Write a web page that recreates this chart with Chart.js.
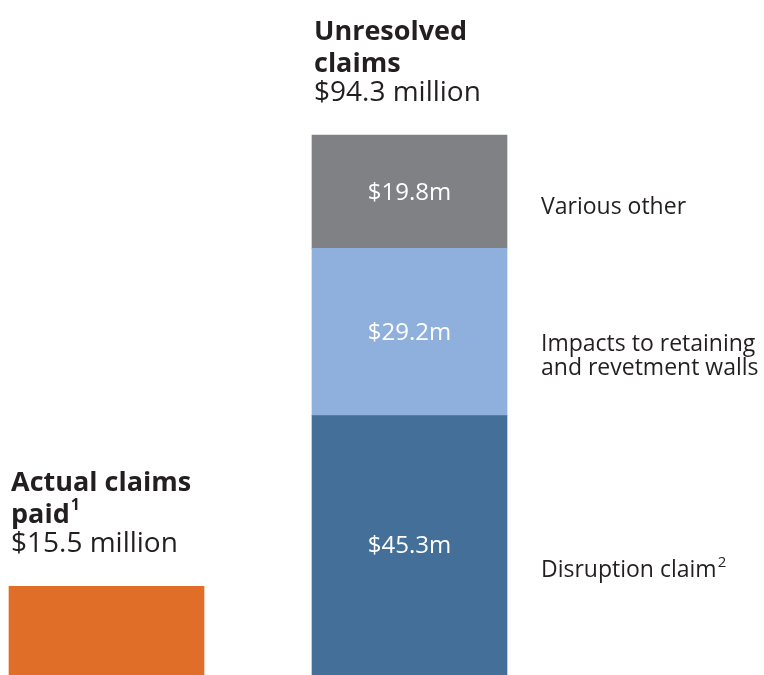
<!DOCTYPE html>
<html>
<head>
<meta charset="utf-8">
<script src="https://cdn.jsdelivr.net/npm/chart.js@4/dist/chart.umd.min.js"></script>
<style>
    html, body { margin: 0; padding: 0; background: #ffffff; }
    #wrap { width: 764px; height: 675px; position: relative; }
</style>
</head>
<body>
<div id="wrap"><canvas id="claims-chart"></canvas></div>
<script>
/* ============================================
   Claims chart data
   ============================================ */

const categories = ['Actual claims paid', 'Unresolved claims'];
const titleLines = [['Actual claims', 'paid'], ['Unresolved', 'claims']];
const titleSup = ['1', ''];
const totals = ['$15.5 million', '$94.3 million'];

const paidValues = [15.5, null];
const disruptionValues = [null, 45.3];
const wallsValues = [null, 29.2];
const otherValues = [null, 19.8];

const segmentNames = [['Disruption claim'], ['Impacts to retaining', 'and revetment walls'], ['Various other']];
const segmentSup = ['2', '', ''];

const FONT = "'Open Sans', 'Noto Sans', sans-serif";
const TEXT = '#231f20';
const NAME_SHIFT = [32, 19, 22];  // baseline offset of the side names from segment middle

// draws titles above each bar, value labels inside segments, names on the right
const annotations = {
    id: 'annotations',
    afterDatasetsDraw(chart) {
        const ctx = chart.ctx;
        ctx.save();
        ctx.textBaseline = 'alphabetic';

        // value labels inside the stacked segments (unresolved column)
        [1, 2, 3].forEach((di, k) => {
            const el = chart.getDatasetMeta(di).data[1];
            const val = chart.data.datasets[di].data[1];
            const mid = (el.y + el.base) / 2;
            ctx.fillStyle = '#ffffff';
            ctx.font = '400 24px ' + FONT;
            ctx.textAlign = 'center';
            ctx.fillText('$' + val.toFixed(1) + 'm', el.x, mid + 8);

            // segment names to the right
            const lines = segmentNames[k];
            const x = el.x + el.width / 2 + 34;
            ctx.fillStyle = TEXT;
            ctx.font = '400 23px ' + FONT;
            ctx.textAlign = 'left';
            const y0 = mid + NAME_SHIFT[k];
            lines.forEach((ln, i) => ctx.fillText(ln, x, y0 + i * 24));
            if (segmentSup[k]) {
                const w = ctx.measureText(lines[0]).width;
                ctx.font = '400 15px ' + FONT;
                ctx.fillText(segmentSup[k], x + w + 1, y0 - 10);
            }
        });

        // titles above each column
        categories.forEach((c, i) => {
            let top = Infinity, left = 0;
            chart.data.datasets.forEach((ds, di) => {
                const el = chart.getDatasetMeta(di).data[i];
                if (ds.data[i] != null && el.y < top) { top = el.y; left = el.x - el.width / 2; }
            });
            const x = left + 2;
            ctx.fillStyle = TEXT;
            ctx.textAlign = 'left';
            ctx.font = '700 27px ' + FONT;
            ctx.fillText(titleLines[i][0], x, top - 95);
            ctx.fillText(titleLines[i][1], x, top - 63);
            if (titleSup[i]) {
                const w = ctx.measureText(titleLines[i][1]).width;
                ctx.font = '700 16px ' + FONT;
                ctx.fillText(titleSup[i], x + w + 1, top - 76);
            }
            ctx.font = '400 28px ' + FONT;
            ctx.fillText(totals[i], x, top - 34);
        });
        ctx.restore();
    }
};

const ctx = document.getElementById('claims-chart').getContext('2d');
new Chart(ctx, {
    type: 'bar',
    data: {
        labels: categories,
        datasets: [
            { label: 'Actual claims paid', data: paidValues, backgroundColor: '#e06e29' },
            { label: 'Disruption claim', data: disruptionValues, backgroundColor: '#446f98' },
            { label: 'Impacts to retaining and revetment walls', data: wallsValues, backgroundColor: '#8fb0dc' },
            { label: 'Various other', data: otherValues, backgroundColor: '#808184' }
        ].map(d => Object.assign(d, { barThickness: 195, borderWidth: 0, clip: false, stack: 's' }))
    },
    options: {
        responsive: true,
        maintainAspectRatio: false,
        animation: false,
        layout: { padding: { top: 135, bottom: 0, left: 106.5, right: 354.5 } },
        plugins: { legend: { display: false }, tooltip: { enabled: false } },
        scales: {
            x: { display: false, stacked: true, offset: false },
            y: { display: false, stacked: true, min: 0, max: 94.3 }
        }
    },
    plugins: [annotations]
});
</script>
</body>
</html>
